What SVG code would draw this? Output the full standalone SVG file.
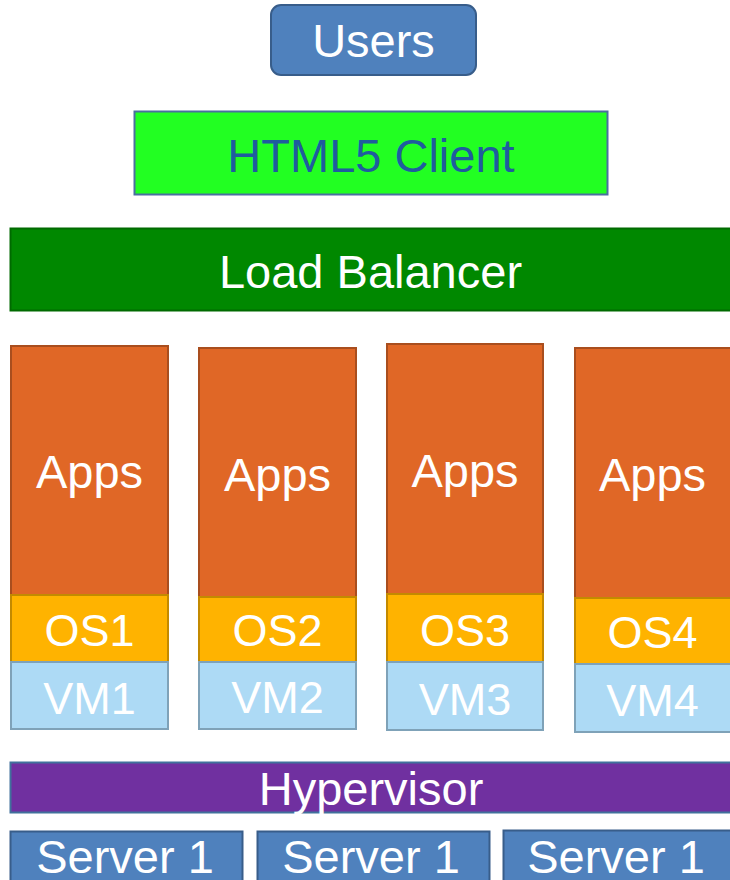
<svg xmlns="http://www.w3.org/2000/svg" width="730" height="880" viewBox="0 0 730 880">
<style>
text{font-family:"Liberation Sans",Arial,sans-serif;text-anchor:middle;fill:#fff}
.big{font-size:47px}
.mid{font-size:45px}
.apps{fill:#E06726;stroke:#A94E1E;stroke-width:2}
.os{fill:#FFB300;stroke:#C38A00;stroke-width:2}
.vm{fill:#ADDAF5;stroke:#7FA2B8;stroke-width:2}
.blue{fill:#4F81BD;stroke:#385D8A;stroke-width:2}
</style>
<rect width="730" height="880" fill="#fff"/>
<g id="connectors"/>
<g id="users">
<rect class="blue" x="271" y="5" width="205" height="70" rx="10"/>
<text class="big" x="373.5" y="57">Users</text>
</g>
<g id="html5-client">
<rect x="134.5" y="111.5" width="473" height="83" fill="#22FF22" stroke="#4A6FA0" stroke-width="2"/>
<text class="big" x="371" y="172" style="fill:#1F5C9E">HTML5 Client</text>
</g>
<g id="load-balancer">
<rect x="10.5" y="228.5" width="722" height="82" fill="#008800" stroke="#006A00" stroke-width="2"/>
<text class="big" x="370.5" y="288">Load Balancer</text>
</g>
<g id="vm1-stack">
<rect class="apps" x="11" y="346" width="157" height="249"/>
<text class="big" x="89.5" y="488">Apps</text>
<rect class="os" x="11" y="595" width="157" height="67"/>
<text class="mid" x="89.5" y="646">OS1</text>
<rect class="vm" x="11" y="662" width="157" height="67"/>
<text class="mid" x="89.5" y="714">VM1</text>
</g>
<g id="vm2-stack">
<rect class="apps" x="199" y="348" width="157" height="249"/>
<text class="big" x="277.5" y="491">Apps</text>
<rect class="os" x="199" y="597" width="157" height="65"/>
<text class="mid" x="277.5" y="646">OS2</text>
<rect class="vm" x="199" y="662" width="157" height="67"/>
<text class="mid" x="277.5" y="713">VM2</text>
</g>
<g id="vm3-stack">
<rect class="apps" x="387" y="344" width="156" height="250"/>
<text class="big" x="465" y="487">Apps</text>
<rect class="os" x="387" y="594" width="156" height="68"/>
<text class="mid" x="465" y="646">OS3</text>
<rect class="vm" x="387" y="662" width="156" height="68"/>
<text class="mid" x="465" y="715">VM3</text>
</g>
<g id="vm4-stack">
<rect class="apps" x="575" y="348" width="157" height="250"/>
<text class="big" x="652.5" y="491">Apps</text>
<rect class="os" x="575" y="598" width="157" height="66"/>
<text class="mid" x="652.5" y="648">OS4</text>
<rect class="vm" x="575" y="664" width="157" height="68"/>
<text class="mid" x="652.5" y="716">VM4</text>
</g>
<g id="hypervisor">
<rect x="10.5" y="762.5" width="722" height="50" fill="#7030A0" stroke="#41719C" stroke-width="2"/>
<text class="big" x="371" y="805">Hypervisor</text>
</g>
<g id="server-1a">
<rect class="blue" x="10.5" y="831.5" width="232" height="60"/>
<text class="big" x="125" y="873">Server 1</text>
</g>
<g id="server-1b">
<rect class="blue" x="257.5" y="831.5" width="232" height="60"/>
<text class="big" x="371" y="873">Server 1</text>
</g>
<g id="server-1c">
<rect class="blue" x="503.5" y="830.5" width="230" height="60"/>
<text class="big" x="616" y="873">Server 1</text>
</g>
</svg>
